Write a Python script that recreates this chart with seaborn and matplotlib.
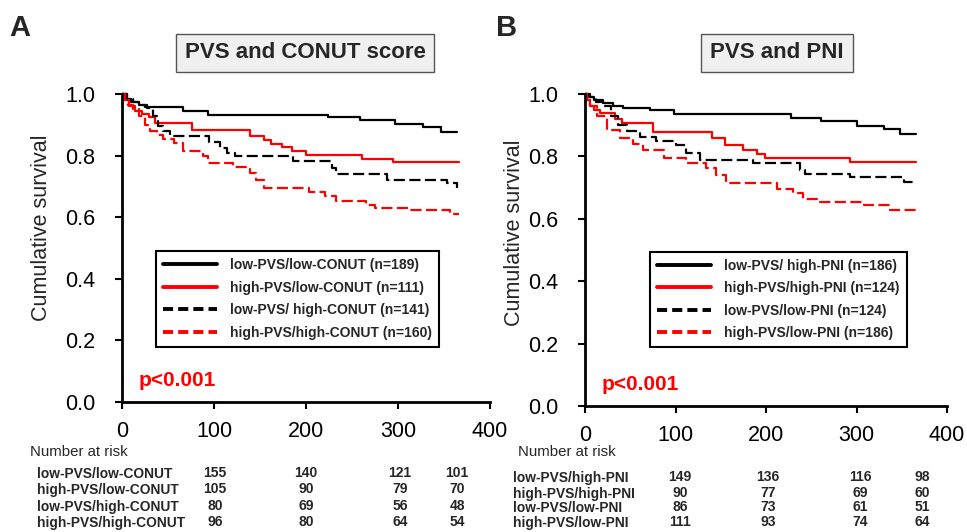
import numpy as np
import pandas as pd
import matplotlib
matplotlib.use('Agg')
import matplotlib.pyplot as plt
import seaborn as sns

# ---- data: Kaplan-Meier steps ----
# panel A: PVS and CONUT score
a_labels = ['low-PVS/low-CONUT (n=189)', 'high-PVS/low-CONUT (n=111)',
            'low-PVS/ high-CONUT (n=141)', 'high-PVS/high-CONUT (n=160)']
a_t1 = [0, 5, 10, 18, 25, 66, 93, 224, 259, 297, 327, 347, 364]
a_s1 = [1.0, 0.985, 0.975, 0.965, 0.957, 0.945, 0.932, 0.925, 0.915, 0.902, 0.892, 0.876, 0.876]
a_t2 = [0, 3, 8, 14, 22, 29, 36, 76, 139, 154, 162, 174, 185, 200, 261, 295, 366]
a_s2 = [1.0, 0.98, 0.96, 0.945, 0.935, 0.925, 0.906, 0.883, 0.865, 0.85, 0.838, 0.828, 0.816, 0.803, 0.79, 0.78, 0.78]
a_t3 = [0, 5, 12, 19, 27, 34, 39, 45, 52, 95, 106, 114, 123, 186, 228, 233, 288, 353, 364]
a_s3 = [1.0, 0.985, 0.975, 0.965, 0.955, 0.93, 0.895, 0.88, 0.865, 0.843, 0.825, 0.81, 0.798, 0.784, 0.76, 0.74, 0.722, 0.71, 0.695]
a_t4 = [0, 3, 7, 12, 19, 25, 30, 38, 45, 56, 66, 88, 93, 121, 139, 146, 154, 203, 221, 233, 265, 275, 313, 357, 366]
a_s4 = [1.0, 0.98, 0.965, 0.95, 0.93, 0.9, 0.881, 0.868, 0.854, 0.84, 0.814, 0.80, 0.775, 0.762, 0.745, 0.72, 0.695, 0.681, 0.67, 0.654, 0.638, 0.63, 0.622, 0.611, 0.611]

# panel B: PVS and PNI
b_labels = ['low-PVS/ high-PNI (n=186)', 'high-PVS/high-PNI (n=124)',
            'low-PVS/low-PNI (n=124)', 'high-PVS/low-PNI (n=186)']
b_t1 = [0, 4, 10, 20, 31, 42, 72, 98, 228, 261, 300, 330, 348, 366]
b_s1 = [1.0, 0.99, 0.98, 0.97, 0.96, 0.955, 0.95, 0.936, 0.923, 0.912, 0.898, 0.889, 0.872, 0.872]
b_t2 = [0, 2, 5, 10, 17, 33, 41, 75, 140, 155, 175, 190, 199, 293, 366]
b_s2 = [1.0, 0.98, 0.96, 0.95, 0.939, 0.921, 0.907, 0.878, 0.859, 0.837, 0.821, 0.809, 0.795, 0.782, 0.782]
b_t3 = [0, 5, 12, 20, 29, 37, 46, 61, 79, 101, 112, 127, 186, 238, 243, 293, 352, 363]
b_s3 = [1.0, 0.99, 0.975, 0.96, 0.93, 0.90, 0.88, 0.862, 0.85, 0.835, 0.811, 0.789, 0.779, 0.755, 0.744, 0.733, 0.718, 0.718]
b_t4 = [0, 2, 5, 13, 24, 39, 53, 64, 87, 112, 134, 145, 156, 212, 230, 241, 260, 308, 337, 366]
b_s4 = [1.0, 0.98, 0.96, 0.928, 0.886, 0.859, 0.84, 0.819, 0.795, 0.779, 0.763, 0.741, 0.714, 0.695, 0.682, 0.665, 0.653, 0.643, 0.629, 0.629]

# number at risk
a_risk_rows = ['low-PVS/low-CONUT', 'high-PVS/low-CONUT', 'low-PVS/high-CONUT', 'high-PVS/high-CONUT']
a_risk = [[155, 140, 121, 101], [105, 90, 79, 70], [80, 69, 56, 48], [96, 80, 64, 54]]
b_risk_rows = ['low-PVS/high-PNI', 'high-PVS/high-PNI', 'low-PVS/low-PNI', 'high-PVS/low-PNI']
b_risk = [[149, 136, 116, 98], [90, 77, 69, 60], [86, 73, 61, 51], [111, 93, 74, 64]]

sns.set_style("ticks")
plt.rcParams['font.family'] = ['Liberation Sans', 'DejaVu Sans']

W, H = 967, 532
fig = plt.figure(figsize=(W / 100, H / 100), dpi=100)

def fx(px):
    return px / W

def fy(py):
    return 1 - py / H

DASH = (0, (5, 2))
styles = [('black', '-'), ('red', '-'), ('black', DASH), ('red', DASH)]

def draw_panel(rect, series, labels, title, title_xy, letter_xy, letter,
               leg_anchor, ylab_xy):
    ax = fig.add_axes(rect)
    for (t, s), lab, (c, ls) in zip(series, labels, styles):
        df = pd.DataFrame({'t': t, 's': s})
        sns.lineplot(data=df, x='t', y='s', ax=ax, estimator=None, sort=False,
                     drawstyle='steps-post', color=c, linestyle=ls, linewidth=1.6,
                     label=lab, clip_on=False)
    ax.set_xlim(0, 400)
    ax.set_ylim(0, 1.0)
    ax.set_xticks([0, 100, 200, 300, 400])
    ax.set_yticks([0, 0.2, 0.4, 0.6, 0.8, 1.0])
    ax.set_yticklabels(['%.1f' % v for v in [0, 0.2, 0.4, 0.6, 0.8, 1.0]])
    ax.tick_params(labelsize=15.5, length=5, width=1.5, colors='black')
    ax.tick_params(axis='y', pad=14)
    ax.tick_params(axis='x', pad=9)
    sns.despine(ax=ax)
    for sp in ['left', 'bottom']:
        ax.spines[sp].set_linewidth(2)
        ax.spines[sp].set_color('black')
    ax.set_xlabel('')
    ax.set_ylabel('Cumulative survival', fontsize=15.5)
    ax.yaxis.set_label_coords(*ylab_xy)

    leg = ax.legend(loc='upper left', bbox_to_anchor=leg_anchor, frameon=True,
                    fancybox=False, edgecolor='black', framealpha=1,
                    prop={'weight': 'bold', 'size': 10}, handlelength=3.9,
                    labelspacing=0.62, borderpad=0.5, handletextpad=0.95,
                    borderaxespad=0)
    leg.get_frame().set_linewidth(1.5)
    for i, h in enumerate(leg.get_lines()):
        h.set_linewidth(2.8)
        if i >= 2:
            h.set_linestyle((0, (2.6, 1.3)))

    ax.text(0.045, 0.07, 'p<0.001', transform=ax.transAxes, color='red',
            fontsize=15, fontweight='bold', ha='left', va='center')

    fig.text(fx(title_xy[0]), fy(title_xy[1]), title, ha='center', va='center',
             fontsize=16, fontweight='bold',
             bbox=dict(boxstyle='square,pad=0.4', facecolor='#f0f0f0',
                       edgecolor='#555555', linewidth=1))
    fig.text(fx(letter_xy[0]), fy(letter_xy[1]), letter, ha='left', va='center',
             fontsize=21, fontweight='bold')
    return ax

ax_a = draw_panel([fx(122), fy(402), fx(490 - 122), 308 / H],
                  [(a_t1, a_s1), (a_t2, a_s2), (a_t3, a_s3), (a_t4, a_s4)],
                  a_labels, 'PVS and CONUT score', (305, 53), (9, 28), 'A',
                  (0.092, 0.49), (-0.19, 0.565))
ax_b = draw_panel([fx(585), fy(406), fx(947 - 585), 312 / H],
                  [(b_t1, b_s1), (b_t2, b_s2), (b_t3, b_s3), (b_t4, b_s4)],
                  b_labels, 'PVS and PNI', (777, 53), (496, 28), 'B',
                  (0.18, 0.495), (-0.165, 0.555))

# number at risk tables
def risk_table(x_head, x_lab, cols_px, rows_py, rows, vals):
    fig.text(fx(x_head), fy(452), 'Number at risk', fontsize=10.8,
             ha='left', va='center')
    for lab, row, py in zip(rows, vals, rows_py):
        fig.text(fx(x_lab), fy(py), lab, fontsize=9.9, fontweight='bold',
                 ha='left', va='center')
        for v, px in zip(row, cols_px):
            fig.text(fx(px), fy(py - 1), str(v), fontsize=10, fontweight='bold',
                     ha='center', va='center')

risk_table(30, 37, [215, 306, 400, 457], [474, 490, 507, 523], a_risk_rows, a_risk)
risk_table(518, 513, [680, 768, 860, 922], [478, 494, 508, 523], b_risk_rows, b_risk)

fig.savefig('out.png', dpi=100)
